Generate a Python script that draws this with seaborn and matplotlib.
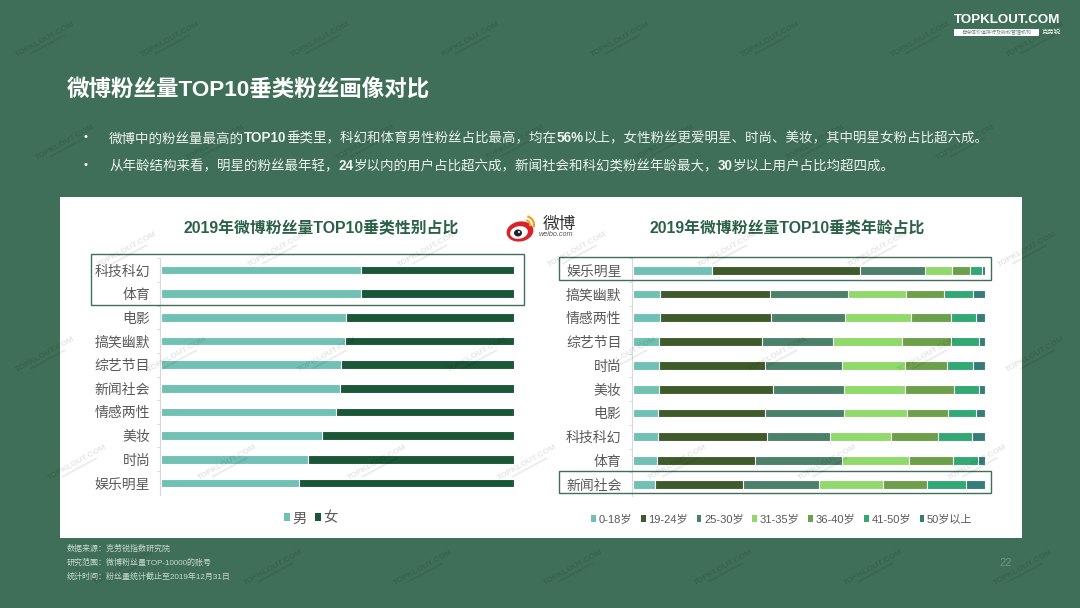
import numpy as np
import matplotlib
matplotlib.use("Agg")
import matplotlib.pyplot as plt
from matplotlib.patches import Rectangle, Ellipse, Arc, Patch
import seaborn as sns

sns.set_theme(style="white")
plt.rcParams['font.family'] = ['Liberation Sans', 'Noto Sans CJK SC', 'DejaVu Sans']

gender_cats = ["科技科幻", "体育", "电影", "搞笑幽默", "综艺节目", "新闻社会", "情感两性", "美妆", "时尚", "娱乐明星"]
male = [56.8, 56.6, 52.4, 52.1, 50.9, 50.7, 49.6, 45.7, 41.6, 39.1]
female = [43.2, 43.4, 47.6, 47.9, 49.1, 49.3, 50.4, 54.3, 58.4, 60.9]

age_cats = ["娱乐明星", "搞笑幽默", "情感两性", "综艺节目", "时尚", "美妆", "电影", "科技科幻", "体育", "新闻社会"]
age_labels = ["0-18岁", "19-24岁", "25-30岁", "31-35岁", "36-40岁", "41-50岁", "50岁以上"]
age_0_18 = [22.5, 7.8, 7.6, 7.5, 7.4, 7.3, 7.0, 7.0, 6.7, 6.3]
age_19_24 = [41.9, 31.2, 31.5, 29.2, 30.2, 32.4, 30.4, 31.1, 27.9, 25.0]
age_25_30 = [18.5, 21.9, 21.2, 20.0, 21.7, 20.1, 22.4, 17.9, 24.6, 21.4]
age_31_35 = [7.6, 16.6, 18.6, 19.6, 17.8, 17.5, 18.1, 17.3, 19.1, 18.4]
age_36_40 = [5.1, 10.9, 11.4, 13.9, 11.9, 13.8, 11.4, 13.3, 12.4, 12.4]
age_41_50 = [3.5, 8.1, 7.0, 8.0, 7.6, 7.1, 8.0, 9.6, 7.3, 11.1]
age_50p = [0.9, 3.5, 2.7, 1.8, 3.4, 1.8, 2.7, 3.8, 2.0, 5.4]

age_colors = ["#70c1b4", "#3f5b2b", "#4b8069", "#90d96b", "#6da04a", "#32a874", "#347d78"]
gender_colors = ["#70c1b4", "#1a5638"]
BG = "#3f6f58"
W, H = 1080, 608

fig = plt.figure(figsize=(W / 100, H / 100), dpi=100, facecolor=BG)
bg = fig.add_axes([0, 0, 1, 1], zorder=0)
bg.set_xlim(0, W); bg.set_ylim(H, 0); bg.axis("off")
bg.add_patch(Rectangle((60, 197), 962, 341, fc="white", ec="none"))


def stacked(rect, cats, series, colors, x_pad, label_pad):
    l, t, r, b = rect
    ax = fig.add_axes([l / W, 1 - b / H, (r - l) / W, (b - t) / H], zorder=2)
    ax.patch.set_alpha(0)
    cum = np.cumsum(np.array(series, dtype=float), axis=0)
    for vals, c in zip(cum[::-1], colors[::-1]):
        sns.barplot(x=vals, y=cats, order=cats, orient="h", color=c, saturation=1,
                    width=0.37, edgecolor="white", linewidth=0.8, ax=ax)
    ax.set_xlim(-x_pad, 100)
    ax.set_ylim(len(cats) - 0.5, -0.5)
    ax.set_xlabel(""); ax.set_ylabel("")
    ax.set_xticks([])
    for s in ("top", "right", "bottom"):
        ax.spines[s].set_visible(False)
    ax.spines["left"].set_color("#d9d9d9")
    ax.spines["left"].set_linewidth(0.8)
    ax.set_yticks(np.arange(len(cats)) - 0.5, minor=True)
    ax.tick_params(axis="y", which="minor", left=True, length=2.5, width=0.7, color="#d9d9d9")
    ax.tick_params(axis="y", which="major", left=False, length=0, pad=label_pad, labelsize=10.0, labelcolor="#595959")
    return ax


axL = stacked((160, 258.2, 513.7, 494.8), gender_cats, [male, female], gender_colors, 0.3, 7)
axR = stacked((632.3, 258.4, 985.3, 496.2), age_cats,
              [age_0_18, age_19_24, age_25_30, age_31_35, age_36_40, age_41_50, age_50p],
              age_colors, 0.2, 7.8)

over = fig.add_axes([0, 0, 1, 1], zorder=3)
over.set_xlim(0, W); over.set_ylim(H, 0); over.axis("off"); over.patch.set_alpha(0)

# highlight boxes
for x, y, w, h in [(91, 254, 432.7, 50.7), (559.3, 257, 431.7, 23), (559.3, 470.7, 431.7, 22.6)]:
    over.add_patch(Rectangle((x, y), w, h, fc="none", ec="#3f6f58", lw=1.0))

# legends
hL = [Patch(fc=c, ec="none") for c in gender_colors]
fig.legend(hL, ["男", "女"], loc="center", bbox_to_anchor=(311 / W, 1 - 518.5 / H), ncols=2, frameon=False,
           fontsize=10.3, labelcolor="#595959", handlelength=0.38, handleheight=0.5,
           handletextpad=0.2, columnspacing=0.6)
hR = [Patch(fc=c, ec="none") for c in age_colors]
fig.legend(hR, age_labels, loc="center", bbox_to_anchor=(782 / W, 1 - 519.5 / H), ncols=7, frameon=False,
           fontsize=8, labelcolor="#595959", handlelength=0.42, handleheight=0.55,
           handletextpad=0.25, columnspacing=0.78)

# titles
over.text(321, 228, "2019年微博粉丝量TOP10垂类性别占比", ha="center", va="center", fontsize=11.4,
          fontweight="bold", color="#2b6148")
over.text(787, 228, "2019年微博粉丝量TOP10垂类年龄占比", ha="center", va="center", fontsize=11.4,
          fontweight="bold", color="#2b6148")

# slide header
over.text(67, 90, "微博粉丝量TOP10垂类粉丝画像对比", ha="left", va="center", fontsize=16.2,
          fontweight="bold", color="white")
over.text(83, 137.5, "•", ha="left", va="center", fontsize=8, color="white")
over.text(83, 165, "•", ha="left", va="center", fontsize=8, color="white")


def rich_line(x, y, parts, size):
    """Lay out alternating regular and bold runs one after another."""
    r = fig.canvas.get_renderer()
    for s, bold in parts:
        t = over.text(x, y, s, ha="left", va="center_baseline", fontsize=size, color="#eef3f0",
                      fontweight="bold" if bold else "normal")
        x += t.get_window_extent(r).width


rich_line(109, 137, [("微博中的粉丝量最高的", False), ("TOP10", True), ("垂类里，科幻和体育男性粉丝占比最高，均在", False),
                     ("56%", True), ("以上，女性粉丝更爱明星、时尚、美妆，其中明星女粉占比超六成。", False)], 9.72)
rich_line(109, 164.5, [("从年龄结构来看，明星的粉丝最年轻，", False), ("24", True),
                       ("岁以内的用户占比超六成，新闻社会和科幻类粉丝年龄最大，", False), ("30", True),
                       ("岁以上用户占比均超四成。", False)], 9.72)

# footer
for y, s in [(548.5, "数据来源：克劳锐指数研究院"), (563, "研究范围：微博粉丝量TOP-10000的账号"),
             (577, "统计时间：粉丝量统计截止至2019年12月31日")]:
    over.text(67, y, s, ha="left", va="center", fontsize=5.75, color="#c9d8d0")
over.text(1006, 563.5, "22", ha="center", va="center", fontsize=8, color="#6f9583")

# brand mark
over.text(1007.5, 20, "TOPKLOUT.COM", ha="center", va="center", fontsize=9.6, fontweight="bold", color="white")
over.add_patch(Rectangle((954, 29), 85, 6.6, fc="white", ec="none"))
over.text(996.5, 32.3, "自媒体价值排行及版权管理机构", ha="center", va="center", fontsize=3.6, color="#6b8a7b")
over.text(1051.5, 32.5, "克劳锐", ha="center", va="center", fontsize=4.6, color="white")

# weibo mark
over.add_patch(Ellipse((520, 231.5), 27, 20, angle=-10, fc="#d8232a", ec="none"))
over.add_patch(Ellipse((519, 232.5), 18, 12.5, angle=-10, fc="white", ec="none"))
over.add_patch(Ellipse((518, 233), 8, 7, fc="#222222", ec="none"))
over.add_patch(Ellipse((519, 232), 2, 2, fc="white", ec="none"))
over.add_patch(Arc((525, 225), 18, 18, theta1=-75, theta2=15, color="#f0a020", lw=1.6))
over.add_patch(Arc((525, 225), 10, 10, theta1=-75, theta2=15, color="#f0a020", lw=1.4))
over.text(559, 224, "微博", ha="center", va="center", fontsize=12, color="#333333", style="italic")
over.text(556, 235, "weibo.com", ha="center", va="center", fontsize=5.2, color="#555555", style="italic")

# repeating watermark
wm_rows = [40, 143, 250, 355, 463, 568]
wm_offsets = [20, 65, 127, 27, 77, 123]
wm = fig.add_axes([0, 0, 1, 1], zorder=4)
wm.set_xlim(0, W); wm.set_ylim(H, 0); wm.axis("off"); wm.patch.set_alpha(0)
for y, off in zip(wm_rows, wm_offsets):
    for k in range(0, 8):
        x = off + 150 * k
        if x > 1085:
            continue
        x = min(max(x, 45), 1035)
        wm.text(x, y, "TOPKLOUT.COM", rotation=29, ha="center", va="center", fontsize=6.0,
                fontweight="bold", color="#000000", alpha=0.11, rotation_mode="anchor")
        wm.plot([x - 15, x + 20], [y + 14, y - 5], color="#000000", alpha=0.07, lw=1.5,
                solid_capstyle="butt")

fig.savefig("out.png", dpi=100, facecolor=BG)
